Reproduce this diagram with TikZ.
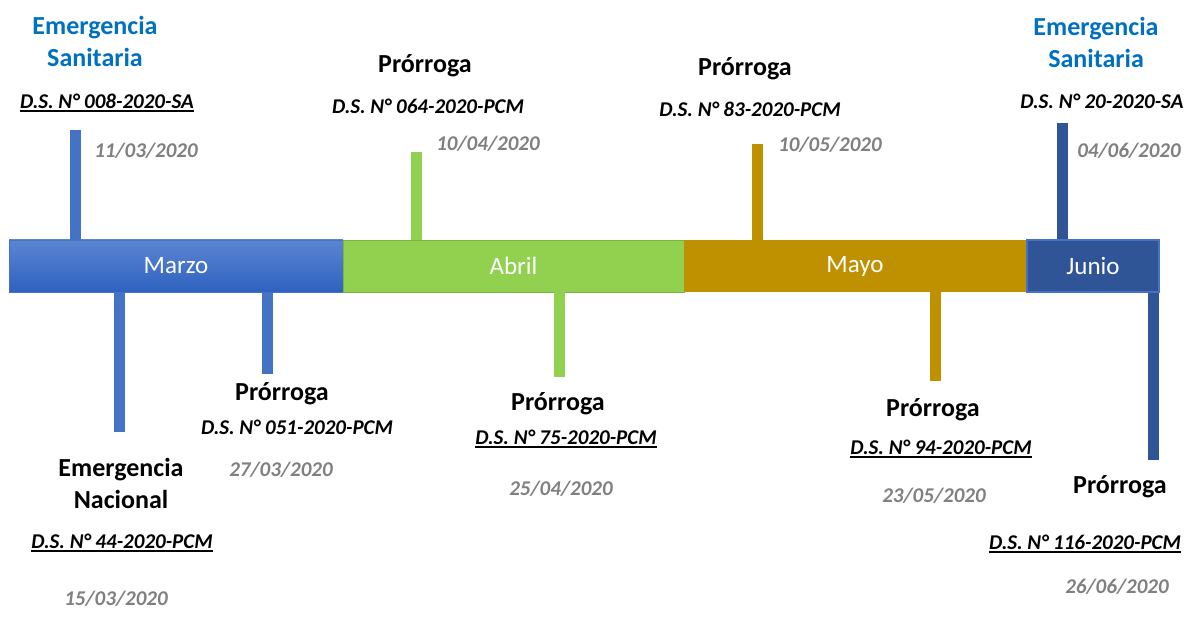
\documentclass[tikz,border=0pt]{standalone}
\usepackage{fontspec}
\setmainfont{Carlito}
\usetikzlibrary{positioning}
\definecolor{mzo}{HTML}{4472C4}
\definecolor{mzotop}{HTML}{5B85D2}
\definecolor{mzobot}{HTML}{2E62BF}
\definecolor{abr}{HTML}{92D050}
\definecolor{abrborde}{HTML}{7CB342}
\definecolor{may}{HTML}{BF9000}
\definecolor{jun}{HTML}{2F5597}
\definecolor{azul}{HTML}{0070C0}
\definecolor{fechagris}{HTML}{808080}
\newcommand\ulin[1]{\setbox0=\hbox{#1}\leavevmode\rlap{\copy0}\rule[-3.5pt]{\wd0}{1.8pt}}

\begin{document}
\begin{tikzpicture}[x=1pt,y=-1pt,
  mes/.style={minimum height=52pt, inner sep=0pt, text=white, font=\fontsize{25}{28}\selectfont},
  stem/.style={line width=11pt},
  titulo/.style={font=\bfseries\fontsize{26}{32}\selectfont, align=center},
  decreto/.style={font=\bfseries\itshape\fontsize{21}{25}\selectfont},
  fecha/.style={font=\bfseries\itshape\fontsize{21}{25}\selectfont, text=fechagris}]
\useasboundingbox (0,0) rectangle (1186,639);

% barra de meses
\node [mes, minimum width=334pt, top color=mzotop, bottom color=mzobot, draw=mzo, line width=0.6pt] (marzo) at (176,266) {Marzo};
\node [mes, minimum width=341pt, fill=abr, draw=abrborde, line width=0.6pt] (abril) at (513.5,266) {Abril};
\node [mes, minimum width=342pt, fill=may] (mayo) at (855,266) {Mayo};
\node [mes, minimum width=132pt, fill=jun, draw=mzo, line width=2pt] (junio) at (1093,266) {Junio};

% marcas
\coordinate (m1) at (75,130);
\coordinate (m2) at (119,432);
\coordinate (m3) at (267,374);
\coordinate (a1) at (416,152);
\coordinate (a2) at (559,377);
\coordinate (y1) at (757,144);
\coordinate (y2) at (935,381);
\coordinate (j1) at (1062,123);
\coordinate (j2) at (1153,460);
\draw [stem, mzo] (m1) -- (m1 |- marzo.north);
\draw [stem, mzo] (marzo.south -| m2) -- (m2);
\draw [stem, mzo] (marzo.south -| m3) -- (m3);
\draw [stem, abr] (a1) -- (a1 |- abril.north);
\draw [stem, abr] (abril.south -| a2) -- (a2);
\draw [stem, may] (y1) -- (y1 |- mayo.north);
\draw [stem, may] (mayo.south -| y2) -- (y2);
\draw [stem, jun] (j1) -- (j1 |- junio.north);
\draw [stem, jun] (junio.south -| j2) -- (j2);

% arriba
\node [titulo, text=azul] (es1) at (95,41) {Emergencia\\Sanitaria};
\node [decreto] (d1) at (107,103) {\ulin{D.S. N° 008-2020-SA}};
\node [fecha] (f1) at (146,151) {11/03/2020};
\node [titulo] (p3) at (425,66) {Prórroga};
\node [decreto] (d3) at (428,106) {D.S. N° 064-2020-PCM};
\node [fecha] (f3) at (488,144) {10/04/2020};
\node [titulo] (p5) at (745,69) {Prórroga};
\node [decreto] (d5) at (750,109) {D.S. N° 83-2020-PCM};
\node [fecha] (f5) at (830,145) {10/05/2020};
\node [titulo, text=azul] (es2) at (1096,42) {Emergencia\\Sanitaria};
\node [decreto] (d7) at (1102,101) {D.S. N° 20-2020-SA};
\node [fecha] (f7) at (1129,151) {04/06/2020};

% abajo
\node [titulo] (en) at (121,483) {Emergencia\\Nacional};
\node [decreto] (d2) at (122,543) {\ulin{D.S. N° 44-2020-PCM}};
\node [fecha] (f2) at (116,599) {15/03/2020};
\node [titulo] (p2) at (282,394) {Prórroga};
\node [decreto] (d2b) at (297,427) {D.S. N° 051-2020-PCM};
\node [fecha] (f2b) at (281,470) {27/03/2020};
\node [titulo] (p4) at (558,404) {Prórroga};
\node [decreto] (d4) at (566,439) {\ulin{D.S. N° 75-2020-PCM}};
\node [fecha] (f4) at (561,489) {25/04/2020};
\node [titulo] (p6) at (933,410) {Prórroga};
\node [decreto] (d6) at (941,449) {\ulin{D.S. N° 94-2020-PCM}};
\node [fecha] (f6) at (934,496) {23/05/2020};
\node [titulo] (p8) at (1120,487) {Prórroga};
\node [decreto] (d8) at (1085,544) {\ulin{D.S. N° 116-2020-PCM}};
\node [fecha] (f8) at (1117,587) {26/06/2020};
\end{tikzpicture}
\end{document}
